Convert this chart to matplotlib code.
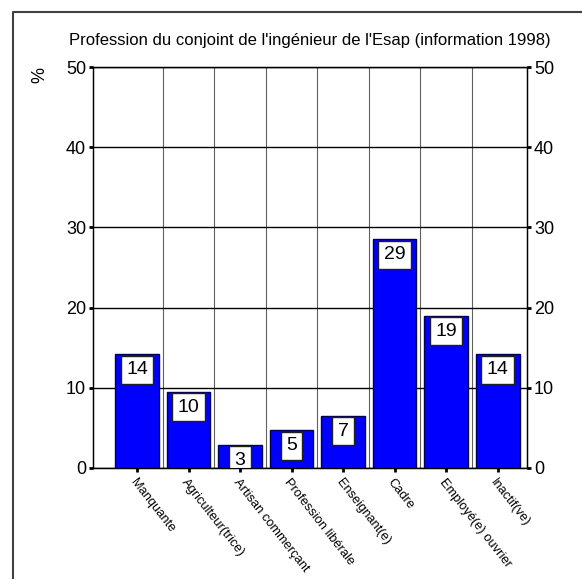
import matplotlib.pyplot as plt
from matplotlib.lines import Line2D

plt.rcParams['font.family'] = ['Liberation Sans', 'DejaVu Sans']

# data
categories = ['Manquante', 'Agriculteur(trice)', 'Artisan commerçant',
              'Profession libérale', 'Enseignant(e)', 'Cadre',
              'Employé(e) ouvrier', 'Inactif(ve)']
values = [14.2, 9.5, 2.9, 4.7, 6.5, 28.5, 19.0, 14.2]
labels = ['14', '10', '3', '5', '7', '29', '19', '14']
yticks = [0, 10, 20, 30, 40, 50]

fig = plt.figure(figsize=(5.82, 5.79), dpi=100)
ax = fig.add_axes([93 / 582, 1 - 468 / 579, 434 / 582, 401 / 579])

x = list(range(len(categories)))
ax.bar(x, values, width=0.85, color='#0000ff', edgecolor='#000050',
       linewidth=1, zorder=3)

for xi, v, lab in zip(x, values, labels):
    ax.annotate(lab, (xi, v), xytext=(0, -5), textcoords='offset points',
                ha='center', va='top', fontsize=14, zorder=4,
                bbox=dict(boxstyle='square,pad=0.28', fc='white',
                          ec='#202020', lw=1),
                annotation_clip=False, clip_on=True)

ax.set_xlim(-0.854, 7.57)
ax.set_ylim(0, 50)
ax.set_yticks(yticks)
ax.set_xticks(x)
ax.set_xticklabels(categories, rotation=-52, ha='left', va='top',
                   rotation_mode='anchor', fontsize=9.3)
ax.set_xticks([i + 0.5 for i in x[:-1]], minor=True)
ax.grid(axis='y', color='black', linewidth=1, zorder=1)
ax.grid(axis='x', which='minor', color='#606060', linewidth=0.8, zorder=1)
ax.set_axisbelow(True)
ax.tick_params(axis='x', which='major', length=3, width=2, pad=3,
               direction='out')
ax.tick_params(axis='x', which='minor', length=0)
ax.tick_params(axis='y', length=3, width=2, labelsize=13, pad=2)
for s in ax.spines.values():
    s.set_linewidth(1)

ax2 = ax.twinx()
ax2.set_ylim(0, 50)
ax2.set_yticks(yticks)
ax2.tick_params(axis='y', length=3, width=2, labelsize=13, pad=2)

ax.set_title("Profession du conjoint de l'ingénieur de l'Esap (information 1998)",
             fontsize=12, pad=16)
fig.text(40 / 582, 1 - 75 / 579, '%', rotation=90, fontsize=13,
         ha='center', va='center')

# outer frame (left and top only)
fig.add_artist(Line2D([13 / 582, 13 / 582, 1], [0, 1 - 12 / 579, 1 - 12 / 579],
                      transform=fig.transFigure, color='#404040', lw=1.5))

fig.savefig('out.png', dpi=100)
